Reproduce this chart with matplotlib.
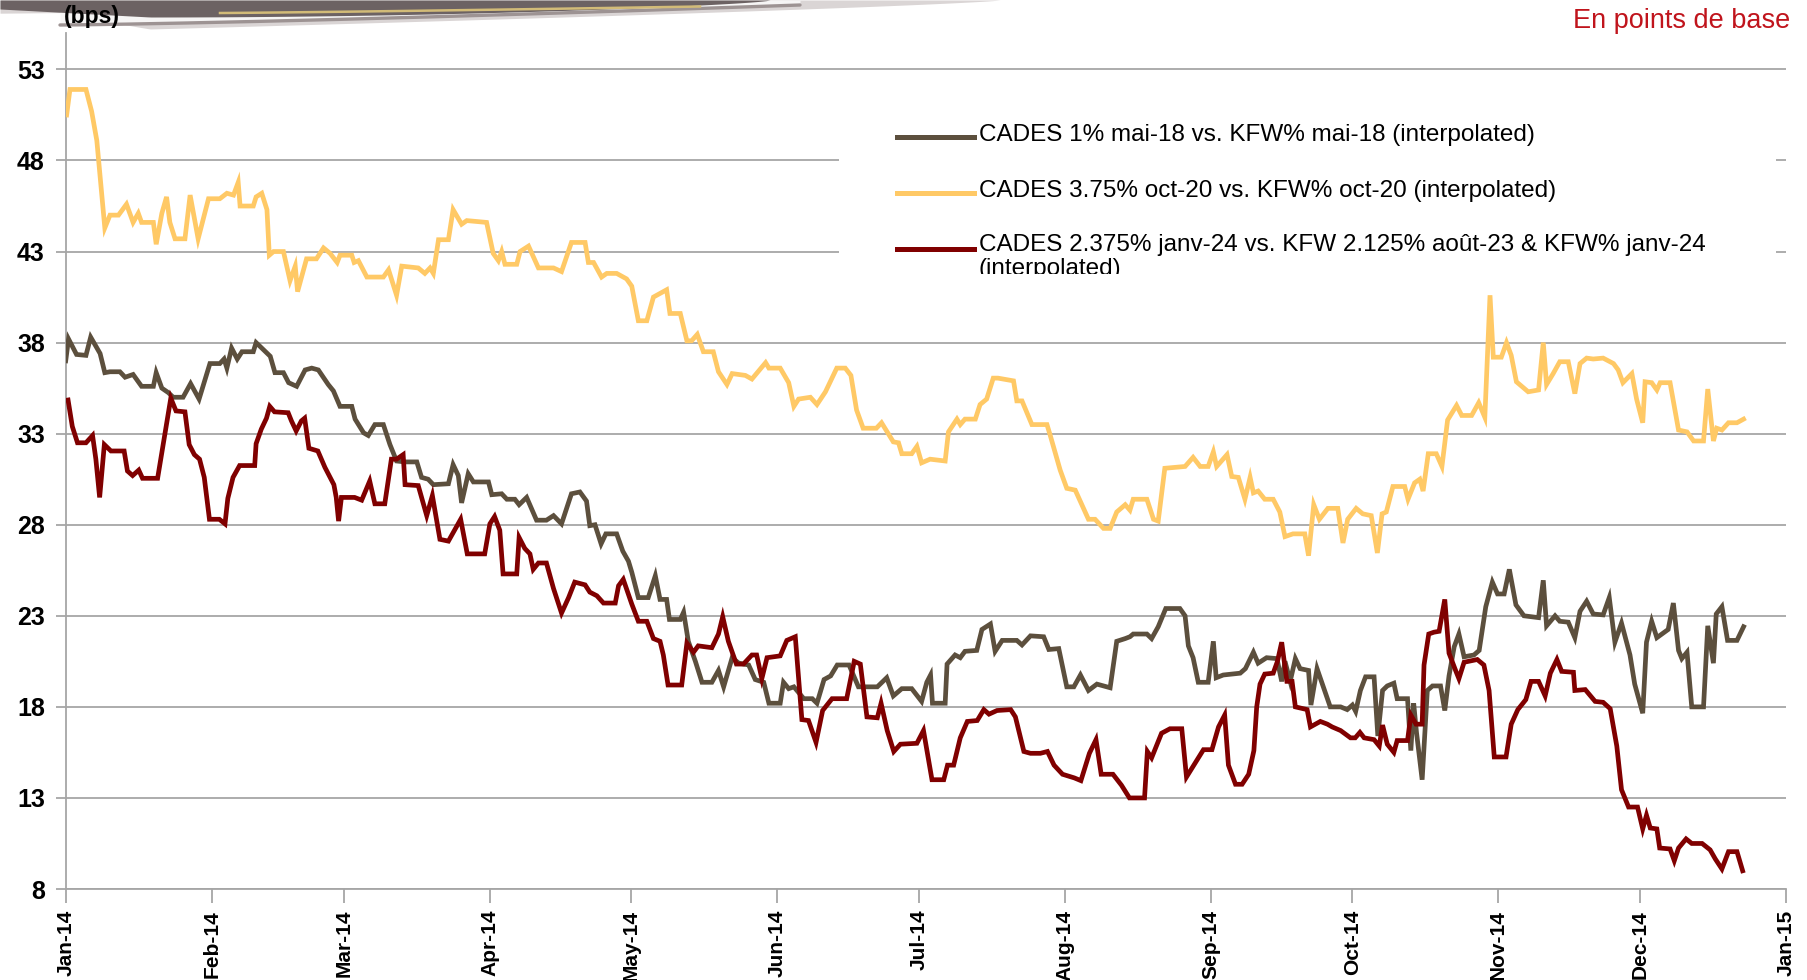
import numpy as np
import matplotlib
matplotlib.use("Agg")
import matplotlib.pyplot as plt
import matplotlib.dates as mdates
from matplotlib.patches import Rectangle
from matplotlib.lines import Line2D

plt.rcParams["font.family"] = ["Liberation Sans", "DejaVu Sans"]

# x values: days since 1 Jan 2014, y values: spread in bps
grey_days = [0, 0.6, 2.3, 4.3, 5.3, 7.3, 8.3, 9.4, 11.5, 12.6, 14.3, 16.1, 18.6, 19.2, 20.4, 21.8, 22.8, 24.9,
             26.5, 28.3, 30.6, 32.7, 33.6, 34.2, 35.2, 36.4, 37.4, 39.8, 40.4, 41.6, 43.4, 44.4, 46.2, 47.3, 49.0,
             50.8, 52.2, 53.6, 55.7, 56.8, 58.2, 60.7, 61.4, 63.2, 64.2, 65.6, 67.4, 68.8, 70.2, 72.0, 74.5, 75.5,
             76.9, 78.0, 81.2, 82.2, 83.3, 84.0, 85.4, 86.5, 89.7, 90.4, 92.5, 93.6, 95.3, 96.2, 97.8, 99.9, 102.0,
             103.5, 105.2, 107.3, 109.1, 110.5, 111.2, 112.3, 113.6, 114.6, 116.9, 118.2, 119.4, 120.1, 121.5,
             123.6, 125.1, 126.1, 127.5, 128.1, 130.4, 131.1, 132.1, 133.6, 135.0, 137.1, 138.5, 139.6, 141.4,
             142.8, 144.9, 146.3, 148.1, 149.2, 151.6, 152.3, 153.4, 154.5, 156.6, 158.4, 159.4, 160.9, 162.3,
             163.7, 166.2, 168.2, 170.0, 172.2, 174.2, 175.6, 177.4, 179.5, 181.6, 182.7, 183.5, 183.9, 186.6,
             187.0, 188.7, 189.8, 190.8, 193.3, 194.4, 196.2, 197.2, 198.7, 201.8, 202.9, 204.7, 207.5, 208.6,
             210.7, 212.4, 213.9, 215.3, 217.0, 218.8, 221.6, 223.0, 224.8, 225.8, 226.5, 229.4, 230.4, 231.8,
             233.4, 236.4, 237.5, 238.2, 239.2, 240.3, 242.4, 243.5, 244.1, 245.6, 249.2, 250.3, 252.0, 253.0,
             254.8, 257.0, 258.0, 258.7, 259.8, 260.9, 261.9, 263.7, 264.2, 265.5, 268.3, 270.5, 271.9, 273.0,
             273.7, 274.7, 275.8, 277.6, 278.4, 279.4, 280.4, 281.8, 282.5, 284.7, 285.4, 286.0, 286.6, 287.8,
             288.9, 290.0, 291.7, 292.6, 293.5, 294.6, 295.6, 296.7, 298.8, 299.9, 301.3, 302.7, 303.8, 305.2,
             306.3, 307.7, 309.4, 312.5, 313.5, 314.2, 316.0, 317.0, 318.8, 320.2, 321.3, 322.7, 324.1, 326.2,
             327.5, 328.7, 330.1, 331.9, 332.9, 334.6, 335.4, 336.5, 337.6, 340.0, 341.1, 342.2, 342.9, 344.0,
             345.0, 347.5, 348.4, 349.6, 350.2, 351.4, 352.6, 354.6, 356.0]
grey_vals = [37.0, 38.2, 37.35, 37.3, 38.3, 37.4, 36.35, 36.4, 36.4, 36.1, 36.25, 35.6, 35.6, 36.35, 35.5, 35.25,
             35.0, 35.0, 35.75, 34.9, 36.85, 36.85, 37.1, 36.6, 37.7, 37.1, 37.5, 37.5, 38.0, 37.7, 37.25, 36.35,
             36.35, 35.8, 35.6, 36.5, 36.6, 36.5, 35.7, 35.35, 34.5, 34.5, 33.8, 33.05, 32.9, 33.5, 33.5, 32.4,
             31.5, 31.45, 31.45, 30.6, 30.5, 30.2, 30.25, 31.3, 30.7, 29.2, 30.8, 30.35, 30.35, 29.65, 29.7, 29.4,
             29.4, 29.1, 29.5, 28.25, 28.25, 28.5, 28.05, 29.7, 29.8, 29.3, 27.95, 28.0, 26.95, 27.5, 27.5, 26.55,
             26.0, 25.4, 24.0, 24.0, 25.2, 23.9, 23.9, 22.8, 22.8, 23.2, 21.6, 20.5, 19.35, 19.35, 20.0, 19.1,
             20.7, 20.4, 20.3, 19.5, 19.35, 18.2, 18.2, 19.35, 19.0, 19.1, 18.45, 18.45, 18.2, 19.5, 19.7, 20.3,
             20.3, 19.1, 19.1, 19.1, 19.6, 18.6, 19.0, 19.0, 18.3, 19.35, 19.75, 18.2, 18.2, 20.35, 20.85, 20.7,
             21.05, 21.1, 22.25, 22.55, 21.05, 21.65, 21.65, 21.4, 21.9, 21.85, 21.15, 21.2, 19.1, 19.1, 19.75,
             18.9, 19.25, 19.05, 21.6, 21.75, 21.85, 22.0, 22.0, 21.75, 22.4, 23.4, 23.4, 23.0, 21.35, 20.7, 19.35,
             19.35, 21.6, 19.6, 19.75, 19.85, 20.1, 21.0, 20.4, 20.7, 20.65, 19.4, 20.5, 19.4, 20.65, 20.1, 20.0,
             18.1, 20.1, 18.0, 18.0, 17.85, 18.1, 17.75, 18.9, 19.65, 19.65, 16.4, 18.9, 19.15, 19.3, 18.45, 18.45,
             15.6, 18.2, 16.6, 14.0, 18.9, 19.15, 19.15, 17.8, 19.7, 21.3, 22.0, 20.75, 20.85, 21.1, 23.5, 24.85,
             24.2, 24.2, 25.55, 23.6, 23.0, 22.9, 24.95, 22.45, 23.0, 22.7, 22.65, 21.8, 23.25, 23.8, 23.1, 23.05,
             24.0, 21.55, 22.6, 20.85, 19.25, 17.65, 21.55, 22.7, 21.8, 22.25, 23.7, 21.1, 20.65, 21.0, 18.0, 18.0,
             22.45, 20.4, 23.1, 23.5, 21.65, 21.65, 22.4]

yellow_days = [0.2, 0.9, 4.3, 5.5, 6.6, 8.3, 9.4, 11.2, 12.9, 14.3, 15.4, 16.1, 18.6, 19.2, 20.4, 21.4, 22.1, 23.2,
               25.3, 26.4, 28.1, 30.3, 32.7, 34.2, 35.6, 36.6, 37.0, 39.8, 40.4, 41.6, 42.7, 43.2, 44.1, 46.2,
               47.6, 48.7, 49.2, 51.1, 53.2, 54.7, 56.1, 57.6, 58.2, 60.7, 61.2, 62.1, 63.9, 67.4, 68.5, 70.2,
               71.3, 74.8, 76.2, 77.3, 78.0, 79.1, 81.2, 82.2, 84.0, 85.1, 89.3, 90.7, 91.8, 92.5, 93.2, 95.7,
               96.4, 98.2, 100.3, 103.5, 105.2, 107.3, 110.2, 110.9, 112.0, 113.7, 114.8, 116.9, 119.0, 120.1,
               121.5, 123.3, 124.7, 127.5, 128.2, 130.4, 131.8, 132.8, 134.0, 135.3, 137.4, 138.5, 140.3, 141.4,
               144.2, 145.6, 148.5, 149.2, 151.6, 153.4, 154.5, 155.5, 158.0, 159.4, 161.2, 163.6, 165.4, 166.6,
               167.8, 169.2, 172.0, 173.1, 175.6, 176.7, 177.4, 179.5, 180.6, 181.6, 183.4, 186.6, 187.3, 189.1,
               189.8, 190.8, 193.0, 194.0, 195.4, 196.8, 197.8, 201.1, 201.8, 202.9, 205.0, 208.2, 208.9, 211.0,
               212.4, 214.2, 217.0, 218.4, 220.2, 221.6, 223.0, 224.8, 225.8, 226.5, 229.4, 230.8, 231.8, 233.2,
               237.5, 239.2, 240.7, 242.4, 243.5, 244.2, 246.4, 247.4, 248.8, 250.2, 251.3, 252.0, 253.0, 254.4,
               256.2, 257.6, 258.7, 260.4, 262.9, 263.7, 264.8, 266.0, 267.8, 269.9, 271.0, 272.0, 273.8, 275.2,
               277.0, 278.3, 279.3, 280.2, 281.6, 284.1, 284.8, 286.2, 287.3, 288.0, 289.1, 290.8, 292.0, 293.2,
               295.1, 296.2, 298.3, 299.8, 301.1, 302.2, 302.9, 304.6, 305.7, 306.7, 307.8, 310.3, 312.5, 313.5,
               314.2, 315.6, 317.0, 318.8, 320.2, 321.3, 322.7, 324.1, 326.2, 328.4, 329.4, 330.4, 332.3, 333.3,
               334.6, 335.1, 336.5, 337.6, 338.3, 340.4, 342.2, 344.0, 345.4, 347.5, 348.4, 349.6, 350.3, 351.4,
               352.8, 354.6, 356.0]
yellow_vals = [50.5, 51.9, 51.9, 50.7, 49.1, 44.3, 45.0, 45.0, 45.6, 44.6, 45.1, 44.6, 44.6, 43.4, 45.1, 46.0,
               44.6, 43.7, 43.7, 46.1, 43.7, 45.9, 45.9, 46.2, 46.1, 46.8, 45.5, 45.5, 46.0, 46.2, 45.3, 42.8,
               43.0, 43.0, 41.4, 42.2, 40.8, 42.6, 42.6, 43.2, 42.9, 42.4, 42.8, 42.8, 42.4, 42.5, 41.6, 41.6,
               42.0, 40.6, 42.2, 42.1, 41.8, 42.1, 41.8, 43.65, 43.65, 45.3, 44.5, 44.7, 44.6, 42.9, 42.5, 43.0,
               42.3, 42.3, 43.0, 43.3, 42.1, 42.1, 41.9, 43.5, 43.5, 42.4, 42.4, 41.6, 41.8, 41.8, 41.5, 41.1,
               39.2, 39.2, 40.5, 40.9, 39.6, 39.6, 38.1, 38.1, 38.45, 37.5, 37.5, 36.4, 35.7, 36.3, 36.2, 36.0,
               36.9, 36.6, 36.6, 35.8, 34.5, 34.9, 35.0, 34.6, 35.3, 36.6, 36.6, 36.2, 34.3, 33.3, 33.3, 33.6,
               32.55, 32.5, 31.9, 31.9, 32.3, 31.4, 31.6, 31.5, 33.1, 33.8, 33.5, 33.8, 33.8, 34.6, 34.9, 36.05,
               36.05, 35.9, 34.8, 34.8, 33.5, 33.5, 32.9, 31.0, 30.0, 29.9, 28.3, 28.3, 27.8, 27.8, 28.7, 29.1,
               28.8, 29.4, 29.4, 28.3, 28.2, 31.1, 31.2, 31.7, 31.2, 31.2, 32.0, 31.2, 31.85, 30.65, 30.6, 29.4,
               30.6, 29.75, 29.85, 29.4, 29.4, 28.7, 27.35, 27.5, 27.5, 26.3, 29.1, 28.3, 28.9, 28.9, 27.0, 28.3,
               28.9, 28.6, 28.5, 26.45, 28.6, 28.7, 30.1, 30.1, 29.4, 30.3, 30.5, 29.85, 31.9, 31.9, 31.2, 33.75,
               34.55, 34.0, 34.0, 34.7, 33.9, 40.6, 37.2, 37.2, 38.0, 37.3, 35.85, 35.3, 35.4, 38.0, 35.7, 36.3,
               36.95, 36.95, 35.2, 36.85, 37.15, 37.1, 37.15, 36.85, 36.5, 35.8, 36.3, 34.9, 33.6, 35.85, 35.8,
               35.4, 35.8, 35.8, 33.2, 33.1, 32.6, 32.6, 35.45, 32.6, 33.3, 33.2, 33.6, 33.6, 33.8]

red_days = [0.5, 1.4, 2.5, 4.3, 5.7, 6.4, 7.2, 8.2, 9.6, 12.4, 13.1, 14.2, 15.5, 16.3, 19.5, 20.9, 22.3, 23.4,
            25.3, 26.2, 27.3, 28.4, 29.4, 30.5, 32.6, 33.8, 34.4, 35.5, 36.9, 40.1, 40.4, 41.5, 42.6, 43.3, 44.3,
            47.2, 47.9, 48.9, 50.0, 50.7, 51.6, 53.5, 55.0, 55.7, 56.9, 57.4, 57.9, 58.5, 61.3, 62.8, 64.5, 65.6,
            67.7, 69.1, 70.2, 71.6, 72.0, 74.8, 76.6, 77.8, 79.4, 81.2, 82.4, 83.8, 85.2, 88.9, 90.0, 91.0, 92.1,
            92.8, 95.7, 96.2, 97.4, 98.5, 99.2, 100.3, 102.0, 103.5, 105.2, 106.7, 108.0, 110.2, 111.2, 112.7,
            114.1, 116.6, 117.3, 118.3, 120.1, 121.5, 123.3, 124.7, 126.1, 126.8, 127.8, 130.7, 131.8, 133.2,
            134.2, 137.1, 138.5, 139.4, 140.6, 142.3, 143.8, 145.6, 146.6, 147.7, 148.8, 151.6, 153.0, 154.8,
            156.2, 157.6, 159.2, 160.6, 162.6, 165.7, 167.3, 168.6, 170.0, 172.2, 173.0, 174.3, 175.7, 177.1,
            180.6, 182.0, 183.8, 186.3, 187.1, 188.4, 189.8, 191.3, 193.4, 194.8, 195.9, 197.6, 200.5, 201.5,
            203.3, 204.7, 206.8, 208.3, 209.7, 211.5, 214.0, 215.4, 217.2, 218.6, 219.7, 222.2, 224.0, 225.7,
            228.9, 229.5, 230.4, 232.5, 234.3, 236.8, 237.8, 239.6, 241.4, 243.2, 244.6, 245.9, 246.7, 248.2,
            249.6, 251.0, 252.1, 252.7, 253.4, 254.4, 256.2, 257.1, 258.0, 259.1, 260.2, 260.9, 263.4, 264.1,
            266.2, 267.7, 268.7, 270.5, 272.6, 273.6, 274.6, 275.5, 277.6, 278.7, 279.4, 280.4, 281.8, 282.5,
            284.7, 285.4, 286.5, 287.8, 288.2, 289.2, 290.3, 291.4, 292.6, 293.5, 294.9, 295.6, 296.7, 299.5,
            300.9, 302.0, 303.1, 305.6, 306.7, 308.1, 309.8, 310.9, 312.5, 313.9, 315.0, 316.4, 317.4, 319.9,
            320.2, 322.4, 324.5, 326.2, 327.7, 329.1, 330.1, 331.6, 333.5, 334.6, 335.4, 336.2, 337.6, 338.2,
            340.4, 341.3, 342.2, 343.8, 345.0, 347.2, 348.9, 350.0, 351.4, 352.8, 354.6, 355.8]
red_vals = [34.85, 33.4, 32.5, 32.5, 32.9, 31.6, 29.5, 32.4, 32.05, 32.05, 30.95, 30.7, 31.0, 30.55, 30.55, 32.75,
            34.95, 34.25, 34.2, 32.4, 31.85, 31.6, 30.6, 28.3, 28.3, 28.05, 29.45, 30.6, 31.25, 31.25, 32.45,
            33.25, 33.85, 34.5, 34.2, 34.15, 33.7, 33.15, 33.7, 33.85, 32.2, 32.05, 31.15, 30.8, 30.2, 29.5, 28.2,
            29.5, 29.5, 29.35, 30.4, 29.15, 29.15, 31.6, 31.6, 31.85, 30.2, 30.15, 28.5, 29.6, 27.2, 27.1, 27.65,
            28.3, 26.4, 26.4, 28.05, 28.45, 27.7, 25.3, 25.3, 27.3, 26.7, 26.4, 25.55, 25.9, 25.9, 24.5, 23.15,
            24.0, 24.85, 24.7, 24.3, 24.1, 23.7, 23.7, 24.65, 25.0, 23.65, 22.7, 22.7, 21.75, 21.6, 20.85, 19.2,
            19.2, 21.5, 21.0, 21.35, 21.25, 22.0, 22.95, 21.6, 20.35, 20.35, 20.85, 20.85, 19.55, 20.7, 20.8,
            21.65, 21.85, 17.3, 17.25, 16.05, 17.8, 18.45, 18.45, 20.5, 20.35, 17.45, 17.4, 18.2, 16.7, 15.55,
            15.95, 16.0, 16.7, 14.0, 14.0, 14.8, 14.8, 16.3, 17.2, 17.25, 17.85, 17.6, 17.8, 17.85, 17.45, 15.55,
            15.45, 15.45, 15.55, 14.8, 14.3, 14.1, 13.95, 15.45, 16.2, 14.3, 14.3, 13.7, 13.0, 13.0, 15.55, 15.2,
            16.55, 16.8, 16.8, 14.15, 14.9, 15.65, 15.65, 16.9, 17.55, 14.8, 13.75, 13.75, 14.3, 15.6, 18.0,
            19.25, 19.8, 19.85, 20.5, 21.55, 19.4, 19.4, 18.0, 17.85, 16.9, 17.2, 17.05, 16.9, 16.7, 16.3, 16.3,
            16.6, 16.3, 16.2, 15.85, 17.0, 15.95, 15.5, 16.15, 16.15, 17.55, 17.05, 17.05, 20.3, 22.0, 22.1,
            22.15, 23.9, 20.95, 20.0, 19.55, 20.45, 20.6, 20.3, 18.9, 15.25, 15.25, 17.05, 17.85, 18.4, 19.4,
            19.4, 18.6, 19.85, 20.6, 19.95, 19.9, 18.9, 18.95, 18.3, 18.25, 17.9, 15.85, 13.45, 12.5, 12.5, 11.3,
            12.05, 11.35, 11.3, 10.25, 10.2, 9.55, 10.25, 10.75, 10.5, 10.5, 10.15, 9.65, 9.1, 10.05, 10.05, 9.0]

series_labels = ["CADES 1% mai-18 vs. KFW% mai-18 (interpolated)",
                 "CADES 3.75% oct-20 vs. KFW% oct-20 (interpolated)",
                 "CADES 2.375% janv-24 vs. KFW 2.125% août-23 & KFW% janv-24\n(interpolated)"]
series_colors = ["#5C4F3D", "#FFC966", "#800000"]
y_ticks = [8, 13, 18, 23, 28, 33, 38, 43, 48, 53]


def to_dates(days):
    start = np.datetime64("2014-01-01T00:00")
    return start + (np.array(days) * 24 * 60).astype("timedelta64[m]")


W, H = 1808, 980
fig = plt.figure(figsize=(W / 100, H / 100), dpi=100)

# decorative swoosh banner at the top
band = fig.add_axes([0, 1 - 40 / H, 1, 40 / H])
band.set_xlim(0, W)
band.set_ylim(40, 0)
band.axis("off")
xs = np.linspace(0, 1000, 300)
shadow = 33 * np.clip(1 - xs / 1000, 0, 1) ** 0.8 * np.clip(xs / 150, 0.4, 1)
band.fill_between(xs, 0, shadow, color="#DAD5D5", lw=0)
xl = np.linspace(60, 800, 200)
low = 25 - 20 * ((xl - 60) / 740) ** 1.3
band.fill_between(xl, 0, low, color="#F6F5F5", lw=0)
band.plot(xl, low, color="#9D9393", lw=2.4, solid_capstyle="round")
xd = np.linspace(0, 770, 200)
dark = 17 * np.cos(0.5 * np.pi * np.clip((xd - 150) / 620, 0, 1)) ** 0.7
dark = np.where(xd < 150, 9 + 8 * xd / 150, dark)
band.fill_between(xd, 0, dark, color="#6C6263", lw=0)
xg = np.linspace(220, 700, 100)
band.plot(xg, 13 - 6.5 * ((xg - 220) / 480) ** 1.2, color="#D2BB78", lw=1.8)

ax = fig.add_axes([65.7 / W, 1 - 889 / H, (1786 - 65.7) / W, (889 - 33) / H])
ax.patch.set_alpha(0)

for days, vals, col, lab in zip([grey_days, yellow_days, red_days],
                                [grey_vals, yellow_vals, red_vals],
                                series_colors, series_labels):
    ax.plot(to_dates(days), vals, color=col, lw=3.4, solid_joinstyle="miter", label=lab, zorder=3)

ax.set_ylim(8, 55)
ax.set_yticks(y_ticks)
ax.set_xlim(np.datetime64("2014-01-01"), np.datetime64("2015-01-01"))
ax.xaxis.set_major_locator(mdates.MonthLocator())
ax.xaxis.set_major_formatter(mdates.DateFormatter("%b-%y"))
ax.grid(axis="y", color="#A6A6A6", lw=1.3)
ax.set_axisbelow(True)
for s in ["top", "right"]:
    ax.spines[s].set_visible(False)
for s in ["left", "bottom"]:
    ax.spines[s].set_color("#A6A6A6")
    ax.spines[s].set_linewidth(1.3)
ax.tick_params(axis="x", length=10, width=1.3, color="#A6A6A6", pad=5, labelrotation=90, labelsize=15)
ax.tick_params(axis="y", length=7, width=1.3, color="#A6A6A6", pad=8, labelsize=18)
for t in ax.get_xticklabels() + ax.get_yticklabels():
    t.set_fontweight("bold")

fig.text(64 / W, 1 - 17 / H, "(bps)", fontsize=16.5, fontweight="bold", va="center", ha="left")
fig.text(1790 / W, 1 - 21 / H, "En points de base", fontsize=19.5, color="#C0141C", va="center", ha="right")

# legend box hiding the gridlines, last entry clipped at the bottom
box = Rectangle((839 / W, 1 - 274 / H), (1776 - 839) / W, (274 - 92) / H, transform=fig.transFigure,
                facecolor="white", edgecolor="none", zorder=4)
fig.patches.append(box)
row_y = [135, 191, 247]
for ry, col, lab in zip(row_y, series_colors, series_labels):
    fig.add_artist(Line2D([897 / W, 974 / W], [1 - (ry + 2) / H] * 2, color=col, lw=3.6,
                          transform=fig.transFigure, zorder=5))
    if "\n" in lab:
        t = fig.text(979 / W, 1 - (ry - 13) / H, lab, fontsize=17.5, va="top", ha="left",
                     zorder=6, linespacing=1.1)
    else:
        t = fig.text(979 / W, 1 - ry / H, lab, fontsize=17.5, va="center", ha="left", zorder=6)
    t.set_clip_path(box)

fig.savefig("out.png", dpi=100)
